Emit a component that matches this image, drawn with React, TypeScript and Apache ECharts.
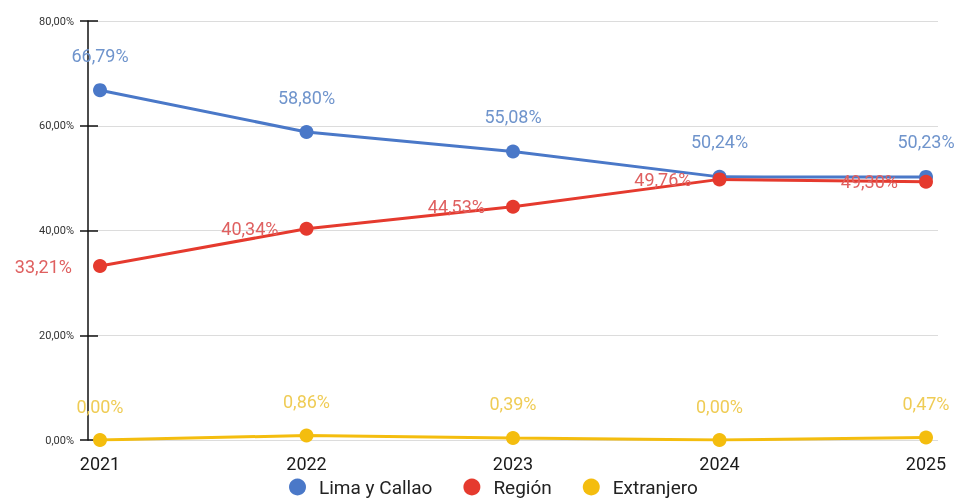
import React, { useEffect, useRef } from "react";
import * as echarts from "echarts";

const years = [2021, 2022, 2023, 2024, 2025];
const limaCallao = [66.79, 58.8, 55.08, 50.24, 50.23];
const region = [33.21, 40.34, 44.53, 49.76, 49.3];
const extranjero = [0, 0.86, 0.39, 0, 0.47];
const yTicks = [0, 20, 40, 60, 80];

const fmt = (v: number) => v.toFixed(2).replace(".", ",") + "%";

export default function App() {
  const ref = useRef<HTMLDivElement>(null);
  useEffect(() => {
    if (!ref.current) return;
    const chart = echarts.init(ref.current, undefined, { renderer: "svg" });
    const mk = (name: string, data: number[], color: string, labelColor: string, pos: string, dist: number) => ({
      name,
      type: "line",
      data: data.map((v, i) => [years[i], v]),
      symbol: "circle",
      symbolSize: 14,
      lineStyle: { color, width: 3 },
      itemStyle: { color },
      label: {
        show: true,
        position: pos,
        distance: dist,
        formatter: (p: any) => fmt(p.value[1]),
        color: labelColor,
        fontSize: 18,
        fontFamily: "Roboto",
      },
      z: name === "Región" ? 3 : 2,
    });
    chart.setOption({
      animation: false,
      textStyle: { fontFamily: "Roboto" },
      grid: { left: 88, right: 18, top: 21, bottom: 62 },
      legend: {
        top: 476,
        left: 289,
        padding: 0,
        icon: "circle",
        itemWidth: 17,
        itemHeight: 17,
        itemGap: 31,
        textStyle: { fontSize: 19, lineHeight: 22, color: "#222", fontFamily: "Roboto", padding: [0, 0, 0, 8] },
        data: ["Lima y Callao", "Región", "Extranjero"],
      },
      xAxis: {
        type: "value",
        min: 2021 - 12 / 206.5,
        max: 2025 + 12 / 206.5,
        axisLine: { show: false },
        axisTick: { show: false },
        splitLine: { show: false },
        axisLabel: {
          customValues: years,
          fontSize: 18,
          color: "#1a1a1a",
          margin: 14,
          formatter: (v: number) => String(Math.round(v)),
        },
      },
      yAxis: [
        {
          type: "value",
          min: 0,
          max: 80,
          interval: 20,
          axisLine: { show: true, lineStyle: { color: "#111", width: 1.5 } },
          axisTick: { show: true, length: 8, lineStyle: { color: "#111", width: 1.5 } },
          axisLabel: {
            fontSize: 11,
            color: "#333",
            margin: 14,
            formatter: (v: number) => (yTicks.includes(v) ? fmt(v) : ""),
          },
          splitLine: { show: true, lineStyle: { color: "#dcdcdc", width: 1 } },
        },
        {
          type: "value",
          min: 0,
          max: 80,
          interval: 20,
          position: "left",
          axisLine: { show: false },
          axisTick: { show: true, inside: true, length: 10, lineStyle: { color: "#111", width: 1.5 } },
          axisLabel: { show: false },
          splitLine: { show: false },
        },
      ],
      series: [
        mk("Lima y Callao", limaCallao, "#4a78c8", "#6f94cc", "top", 19),
        mk("Región", region, "#e53a2e", "#df6060", "left", 21),
        mk("Extranjero", extranjero, "#f4bd0e", "#efcc55", "top", 18),
      ],
    });
    return () => chart.dispose();
  }, []);
  return <div ref={ref} style={{ position: "fixed", left: 0, top: 0, width: 956, height: 502 }} />;
}
